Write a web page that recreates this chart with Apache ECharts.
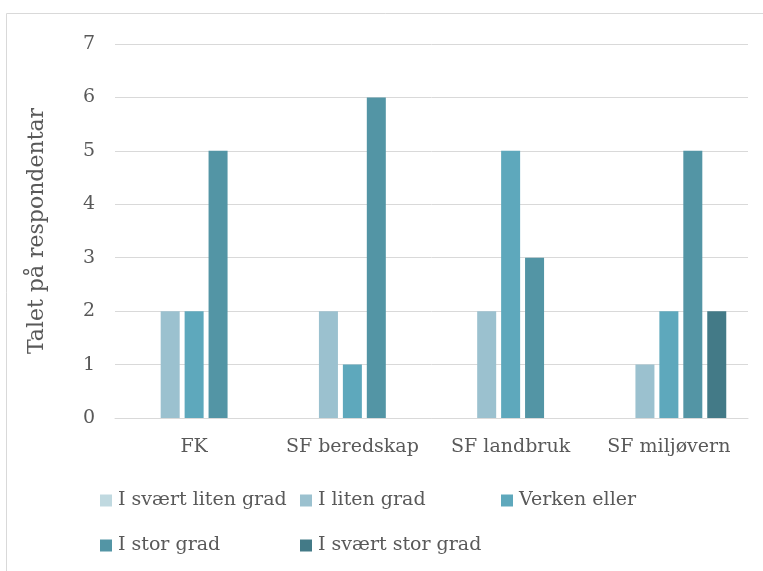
<!DOCTYPE html>
<html>
<head>
<meta charset="utf-8">
<script src="https://cdn.jsdelivr.net/npm/echarts@6/dist/echarts.min.js"></script>
<style>
  html, body { margin: 0; padding: 0; background: #fff; }
  #chart { width: 763px; height: 571px; }
</style>
</head>
<body>
<div id="chart"></div>
<script>
const categories = ['FK', 'SF beredskap', 'SF landbruk', 'SF miljøvern']
const seriesNames = ['I svært liten grad', 'I liten grad', 'Verken eller', 'I stor grad', 'I svært stor grad']
const seriesValues = [
  [0, 0, 0, 0],
  [2, 2, 2, 1],
  [2, 1, 5, 2],
  [5, 6, 3, 5],
  [0, 0, 0, 2],
]
const colors = ['#c0d9e0', '#9bc1cf', '#5ea8bc', '#5395a5', '#437a87']
const font = 'DejaVu Serif'
const textColor = '#595959'
const fs = 19

// legend slots: [left, top]
const legendPos = [[100, 491], [300, 491], [501, 491], [100, 536], [300, 536]]

const chart = echarts.init(document.getElementById('chart'))

const option = {
  animation: false,
  textStyle: { fontFamily: font, color: textColor },
  graphic: [
    {
      type: 'rect',
      shape: { x: 6.5, y: 13.5, width: 800, height: 600 },
      style: { fill: 'none', stroke: '#d9d9d9', lineWidth: 1 },
      silent: true,
    },
  ],
  grid: { left: 115, right: 15, top: 44, bottom: 153 },
  legend: seriesNames.map((name, i) => ({
    left: legendPos[i][0],
    top: legendPos[i][1],
    padding: 0,
    itemWidth: 12,
    itemHeight: 12,
    itemGap: 0,
    icon: 'rect',
    textStyle: { fontFamily: font, fontSize: fs, color: textColor, padding: [0, 0, 0, 1] },
    data: [name],
  })),
  xAxis: {
    type: 'category',
    data: categories,
    axisTick: { show: false },
    axisLine: { lineStyle: { color: '#d9d9d9', width: 1 } },
    axisLabel: { interval: 0, fontFamily: font, fontSize: fs, color: textColor, margin: 20 },
  },
  yAxis: {
    type: 'value',
    min: 0,
    max: 7,
    interval: 1,
    name: 'Talet på respondentar',
    nameLocation: 'middle',
    nameGap: 67,
    nameTextStyle: { fontFamily: font, fontSize: 22, color: textColor },
    axisLabel: { fontFamily: font, fontSize: fs, color: textColor, margin: 20 },
    splitLine: { lineStyle: { color: '#d9d9d9', width: 1 } },
  },
  series: seriesNames.map((name, i) => ({
    name,
    type: 'bar',
    data: seriesValues[i],
    barWidth: 19,
    barGap: '26%',
    barCategoryGap: '25%',
    itemStyle: { color: colors[i] },
  })),
}
chart.setOption(option)
</script>
</body>
</html>
